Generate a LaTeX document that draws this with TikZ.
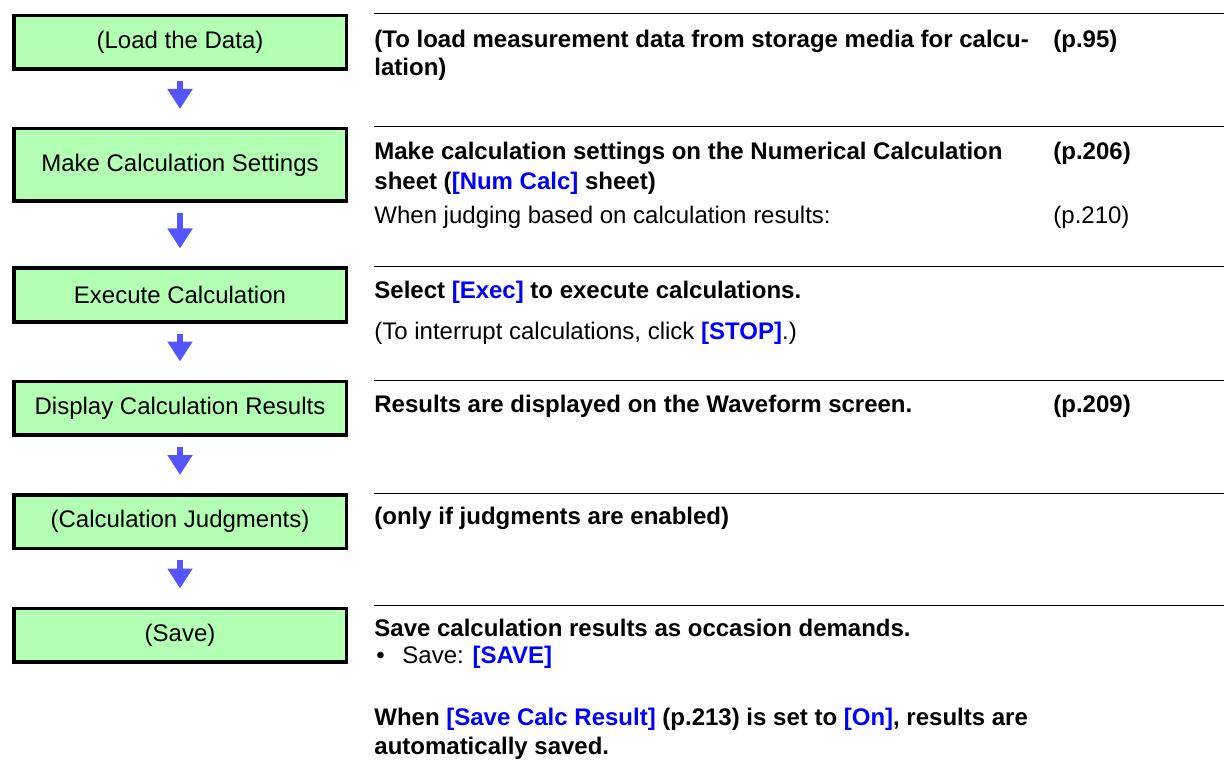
\documentclass[tikz,border=0pt]{standalone}
\usepackage{fontspec}
\setmainfont{Liberation Sans}
\definecolor{stepgreen}{RGB}{179,255,179}
\definecolor{flowblue}{RGB}{85,85,255}
\definecolor{keyblue}{RGB}{0,0,255}
\usetikzlibrary{arrows.meta}
\newcommand{\keyname}[1]{\textcolor{keyblue}{\textbf{#1}}}

\begin{document}
\begin{tikzpicture}[x=0.5pt,y=-0.5pt,
    font=\fontsize{12}{14.5}\selectfont,
    stepbox/.style={draw, line width=1.75pt, fill=stepgreen, minimum width=166.25pt,
        minimum height=26.75pt, inner sep=0pt},
    flow/.style={draw=flowblue, line width=3pt, shorten <=5pt, shorten >=9pt,
        -{Triangle[width=12pt,length=10pt]}},
    desc/.style={anchor=base west, inner sep=0pt, font=\fontsize{12}{14.5}\selectfont\bfseries},
    note/.style={anchor=base west, inner sep=0pt}]
    \useasboundingbox (0,0) rectangle (1224,764);

    % Steps
    \node[stepbox] (load) at (180,42.5) {(Load the Data)};
    \node[stepbox, minimum height=36.25pt] (settings) at (180,165) {Make Calculation Settings};
    \node[stepbox] (exec) at (180,295) {Execute Calculation};
    \node[stepbox] (display) at (180,408) {Display Calculation Results};
    \node[stepbox] (judge) at (180,521.5) {(Calculation Judgments)};
    \node[stepbox] (save) at (180,635) {(Save)};

    % Arrows
    \foreach \a/\b in {load/settings, settings/exec, exec/display, display/judge, judge/save}
        \draw[flow] (\a.south) -- (\b.north);

    % Rules
    \foreach \y in {14,127,267,380,493,605}
        \draw[line width=0.5pt] (374,\y) -- (1224,\y);

    % Load
    \node[desc] (loadA) at (374,48) {(To load measurement data from storage media for calcu-};
    \node[desc] (loadB) at (374,76) {lation)};
    \node[desc] (loadP) at (1053,48) {(p.95)};

    % Settings
    \node[desc] (setA) at (374,160) {Make calculation settings on the Numerical Calculation};
    \node[desc] (setB) at (374,190) {sheet (\keyname{[Num Calc]} sheet)};
    \node[desc] (setP) at (1053,160) {(p.206)};
    \node[note] (judgeNote) at (374,224) {When judging based on calculation results:};
    \node[note] (judgeP) at (1053,224) {(p.210)};

    % Execute
    \node[desc] (execA) at (374,299) {Select \keyname{[Exec]} to execute calculations.};
    \node[note] (execB) at (374,339) {(To interrupt calculations, click \keyname{[STOP]}.)};

    % Display
    \node[desc] (dispA) at (374,412) {Results are displayed on the Waveform screen.};
    \node[desc] (dispP) at (1053,412) {(p.209)};

    % Judgments
    \node[desc] (judgeA) at (374,524) {(only if judgments are enabled)};

    % Save
    \node[desc] (saveA) at (374,636) {Save calculation results as occasion demands.};
    \node[note] (saveDot) at (376,663) {•};
    \node[note] (saveB) at (402,663) {Save: \keyname{[SAVE]}};
    \node[desc] (saveC) at (374,725) {When \keyname{[Save Calc Result]} (p.213) is set to \keyname{[On]}, results are};
    \node[desc] (saveD) at (374,754) {automatically saved.};
\end{tikzpicture}
\end{document}
